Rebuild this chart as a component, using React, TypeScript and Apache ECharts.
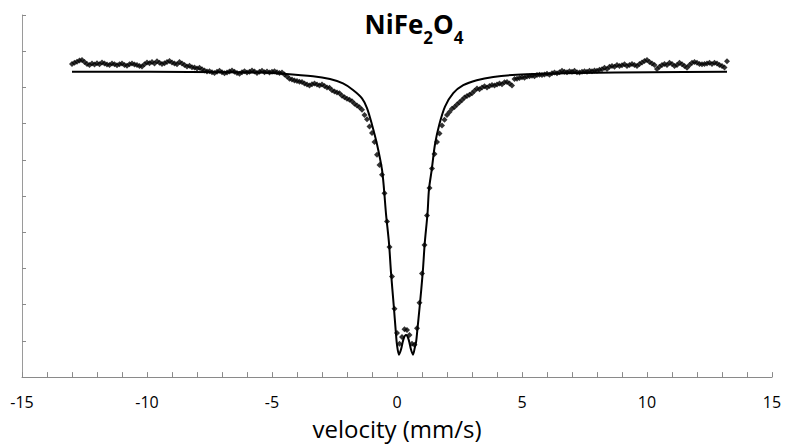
import React, { useEffect, useRef } from 'react';
import * as echarts from 'echarts';

// Channel velocity calibration (mm/s)
const VEL_START = -13.0;
const VEL_STEP = 0.1;

const leftWing = [
  8.65, 8.68, 8.71, 8.74, 8.76, 8.70, 8.65, 8.62, 8.66, 8.63,
  8.67, 8.64, 8.69, 8.66, 8.63, 8.62, 8.66, 8.64, 8.61, 8.64,
  8.66, 8.62, 8.60, 8.64, 8.66, 8.63, 8.62, 8.59, 8.58, 8.64,
  8.69, 8.67, 8.70, 8.66, 8.72, 8.68, 8.65, 8.67, 8.70, 8.73,
  8.69, 8.66, 8.64, 8.70, 8.66,
  8.62, 8.58, 8.60, 8.56, 8.55, 8.52, 8.54, 8.50,
  8.47, 8.44, 8.45, 8.42, 8.40, 8.43, 8.46, 8.42, 8.39, 8.41,
  8.44, 8.47, 8.43, 8.40, 8.38, 8.42, 8.45, 8.41, 8.43, 8.47,
  8.44, 8.40, 8.43, 8.46, 8.42, 8.44, 8.41, 8.43, 8.45, 8.42,
  8.40, 8.41, 8.36, 8.30,
];
const centralDip = [
  8.24, 8.22, 8.19, 8.18, 8.16, 8.15, 8.11, 8.08, 8.05, 8.09,
  8.11, 8.08, 8.05, 8.08, 8.04, 8.00, 7.99, 7.92, 7.89, 7.86,
  7.84, 7.77, 7.73, 7.69, 7.66, 7.62, 7.55, 7.50, 7.45, 7.38,
  7.24, 7.12, 6.92, 6.74, 6.49, 6.14, 5.86, 5.59, 5.08, 4.30,
  3.59, 2.78, 1.89, 1.22, 0.92, 1.11, 1.32, 1.30, 1.16, 0.92,
  0.89, 1.35, 2.05, 2.86, 3.65, 4.46, 5.22, 5.76, 6.16, 6.49,
  6.73, 6.95, 7.11, 7.24, 7.32, 7.41, 7.46, 7.53, 7.59, 7.65,
  7.72, 7.76, 7.80, 7.84, 7.91, 7.97, 7.95, 8.00, 8.03, 8.00,
  8.04, 8.07, 8.05, 8.08, 8.11, 8.09, 8.14, 8.15, 8.11, 8.05,
];
const rightWing = [
  8.23, 8.24, 8.26, 8.28, 8.27, 8.30, 8.31, 8.32, 8.31, 8.34,
  8.35, 8.34, 8.36, 8.38, 8.35, 8.39, 8.41, 8.39, 8.42, 8.46,
  8.43, 8.42, 8.45, 8.43, 8.46, 8.42, 8.41, 8.43, 8.45, 8.43,
  8.46, 8.45, 8.47, 8.46, 8.49, 8.50, 8.54, 8.51, 8.57, 8.59,
  8.57, 8.62, 8.59, 8.61, 8.64, 8.59, 8.62, 8.65, 8.62, 8.59,
  8.65, 8.69, 8.73, 8.76, 8.70, 8.66, 8.62, 8.51, 8.57, 8.62,
  8.65, 8.62, 8.68, 8.65, 8.59, 8.62, 8.68, 8.64, 8.59, 8.54,
  8.62, 8.68, 8.70, 8.68, 8.65, 8.64, 8.65, 8.66, 8.68, 8.65,
  8.68, 8.66, 8.62, 8.59, 8.55, 8.72,
];

// Fitted doublet curve
const fitVelocity = [
  -13.0, -9.88, -6.68, -5.4, -4.56, -3.36, -2.68, -2.16, -1.76, -1.4,
  -1.2, -1.0, -0.8, -0.6, -0.52, -0.44, -0.32, -0.24, -0.13, -0.05,
  0.0, 0.08, 0.16, 0.26, 0.36, 0.46, 0.56, 0.64, 0.72, 0.76,
  0.81, 0.91, 1.03, 1.11, 1.22, 1.28, 1.39, 1.52, 1.69, 1.92,
  2.25, 2.65, 3.19, 3.85, 4.79, 6.12, 7.32, 10.12, 13.2,
];
const fitTransmission = [
  8.43, 8.43, 8.42, 8.41, 8.38, 8.31, 8.23, 8.11, 7.93, 7.70,
  7.43, 6.97, 6.43, 5.73, 5.19, 4.51, 3.70, 2.89, 1.97, 1.27,
  0.89, 0.62, 0.76, 1.05, 1.16, 1.05, 0.76, 0.62, 0.84, 0.95,
  1.27, 1.97, 2.89, 3.70, 4.51, 5.19, 5.73, 6.43, 6.97, 7.47,
  7.84, 8.06, 8.20, 8.29, 8.35, 8.38, 8.40, 8.42, 8.43,
];

const X_MIN = -15;
const X_MAX = 15;
const X_LABEL_STEP = 5;
const Y_MIN = 0;
const Y_MAX = 10;

const FONT = "'Open Sans', 'Liberation Sans', sans-serif";

export default function App() {
  const ref = useRef<HTMLDivElement>(null);

  useEffect(() => {
    document.body.style.margin = '0';
    if (!ref.current) return;
    const chart = echarts.init(ref.current, undefined, { renderer: 'svg' });

    const measured = [...leftWing, ...centralDip, ...rightWing].map((t, i) => [
      +(VEL_START + i * VEL_STEP).toFixed(2),
      t,
    ]);
    const fit = fitVelocity.map((v, i) => [v, fitTransmission[i]]);

    chart.setOption({
      animation: false,
      backgroundColor: '#ffffff',
      textStyle: { fontFamily: FONT },
      grid: { left: 22, right: 18, top: 15, bottom: 61, containLabel: false },
      xAxis: {
        type: 'value',
        min: X_MIN,
        max: X_MAX,
        interval: 1,
        name: 'velocity (mm/s)',
        nameLocation: 'middle',
        nameGap: 35,
        nameTextStyle: { fontSize: 24, lineHeight: 26, color: '#000', fontFamily: FONT },
        axisLine: { onZero: false, lineStyle: { color: '#8a8a8a', width: 1 } },
        axisTick: { inside: true, length: 5, lineStyle: { color: '#8a8a8a' } },
        axisLabel: {
          formatter: (v: number) => (Math.round(v) % X_LABEL_STEP === 0 ? String(Math.round(v)) : ''),
          fontSize: 16,
          lineHeight: 16,
          color: '#000',
          margin: 17,
          fontFamily: FONT,
        },
        splitLine: { show: false },
      },
      yAxis: {
        type: 'value',
        min: Y_MIN,
        max: Y_MAX,
        interval: 1,
        axisLine: { show: true, onZero: false, lineStyle: { color: '#9a9a9a', width: 1 } },
        axisTick: { show: true, inside: true, length: 4, lineStyle: { color: '#8a8a8a' } },
        axisLabel: { show: false },
        splitLine: { show: false },
      },
      graphic: [
        {
          type: 'text',
          x: 414,
          y: 1,
          style: {
            text: '{a|NiFe}{b|2}{a|O}{b|4}',
            align: 'center',
            verticalAlign: 'top',
            fill: '#000',
            rich: {
              a: { fontSize: 26, fontWeight: 'bold', fontFamily: FONT, lineHeight: 45, fill: '#000' },
              b: { fontSize: 17, fontWeight: 'bold', fontFamily: FONT, lineHeight: 17, verticalAlign: 'bottom', fill: '#000' },
            },
          },
        },
      ],
      series: [
        {
          type: 'line',
          data: fit,
          symbol: 'none',
          showSymbol: false,
          smooth: 0.3,
          lineStyle: { color: '#000', width: 2 },
          z: 2,
        },
        {
          type: 'scatter',
          data: measured,
          symbol: 'diamond',
          symbolSize: 6,
          itemStyle: { color: '#000' },
          z: 3,
        },
      ],
    });

    return () => chart.dispose();
  }, []);

  return <div ref={ref} style={{ width: 790, height: 446 }} />;
}
